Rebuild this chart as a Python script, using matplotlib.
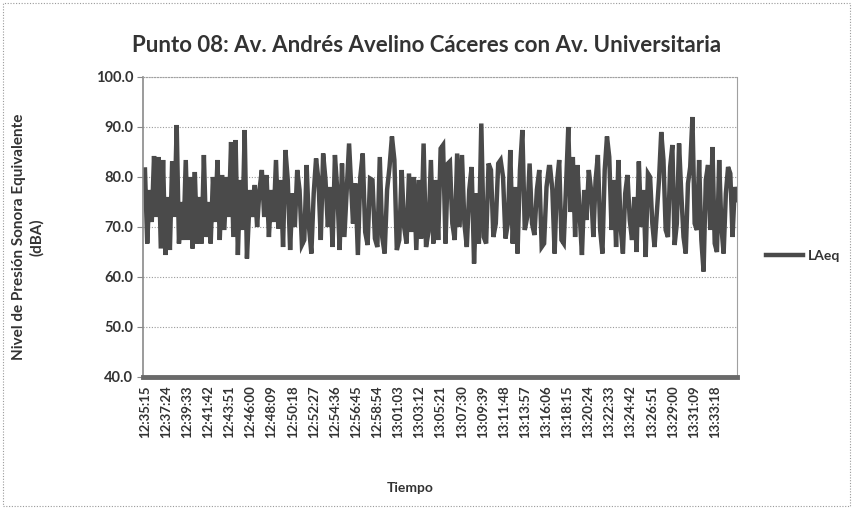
import numpy as np
import matplotlib
matplotlib.use("Agg")
import matplotlib.pyplot as plt
from matplotlib.patches import Rectangle

plt.rcParams['font.family'] = ['Lato', 'DejaVu Sans']

# Lecturas LAeq (dBA), por tramos de tiempo
tramo_1 = [81.5, 66.7, 77.4, 71.0, 84.2, 72.0, 84.0, 65.7, 83.4, 64.4, 76.0, 65.4,
           83.1, 72.0, 90.4, 66.7, 75.0, 67.4, 83.4, 67.4, 80.0, 65.7, 81.0, 66.7,
           76.0, 66.7, 84.4, 68.0, 75.0, 66.7, 80.0, 71.0, 83.4, 67.4, 80.4, 69.4,
           80.0, 72.0, 87.0, 68.0, 87.4, 64.4, 79.4, 69.4, 89.4, 63.7]
tramo_2 = [77.4, 72.0, 78.4, 70.0, 77.4, 81.4, 72.0, 80.4, 68.0, 77.4, 71.0, 83.4,
           69.7, 79.4, 66.0, 85.4, 79.4, 65.4, 76.7, 70.0, 81.4, 77.4, 66.4, 67.4,
           82.4, 70.0, 64.7, 76.7, 83.7, 79.4, 67.4, 84.7, 79.4, 70.0, 78.0, 66.0,
           84.4, 77.4, 65.4, 82.7, 68.0, 77.4, 86.7]
tramo_3 = [70.7, 78.7, 64.4, 80.0, 84.7, 69.0, 66.4, 79.7, 79.4, 67.7, 66.0, 84.0,
           68.0, 64.7, 77.4, 82.0, 88.1, 83.4, 65.4, 67.4, 81.4, 70.0, 66.7, 80.7,
           69.0, 80.0, 65.4, 79.4, 67.7, 86.7, 66.0, 69.0, 83.4, 66.7, 79.4, 67.4,
           85.7, 86.4, 66.7, 82.7]
tramo_4 = [83.1, 70.7, 67.4, 84.7, 70.0, 84.4, 70.7, 66.0, 77.4, 82.0, 62.7, 76.7,
           66.7, 90.7, 68.0, 66.7, 82.7, 81.4, 68.0, 70.7, 82.7, 83.4, 80.0, 67.7,
           70.7, 85.4, 66.7, 78.0, 64.7, 81.4, 89.4, 69.4, 72.0, 82.7, 70.7, 68.4,
           77.4, 81.4, 66.0, 66.7, 78.0, 82.0]
tramo_5 = [82.0, 77.4, 64.7, 78.7, 83.4, 67.4, 66.7, 78.0, 90.0, 73.0, 84.0, 68.0,
           82.4, 72.4, 64.4, 77.4, 71.4, 81.4, 77.4, 68.0, 79.4, 84.4, 69.4, 64.7,
           81.4, 88.1, 84.0, 69.4, 79.4, 66.0, 83.4, 70.0, 64.7, 76.7, 80.4, 71.4,
           67.4, 76.0, 65.0, 83.1, 70.0, 77.4, 64.0, 80.7]
tramo_6 = [80.0, 70.7, 66.0, 72.7, 79.4, 89.0, 83.4, 69.4, 68.0, 82.0, 86.4, 66.4,
           70.7, 86.7, 76.7, 68.0, 64.7, 78.7, 82.0, 92.0, 70.7, 69.4, 83.4, 67.4,
           61.1, 79.4, 82.4, 69.4, 86.0, 66.7, 65.0, 83.4, 70.0, 64.7, 76.7, 82.0,
           80.7, 68.0, 78.0, 75.4]

# inicio y fin de cada tramo, en segundos desde 12:35:15
limites_tramos = [(0, 623), (642, 1247), (1271, 1851), (1863, 2468), (2475, 3073), (3086, 3617)]

etiquetas_tiempo = ["12:35:15", "12:37:24", "12:39:33", "12:41:42", "12:43:51", "12:46:00",
                    "12:48:09", "12:50:18", "12:52:27", "12:54:36", "12:56:45", "12:58:54",
                    "13:01:03", "13:03:12", "13:05:21", "13:07:30", "13:09:39", "13:11:48",
                    "13:13:57", "13:16:06", "13:18:15", "13:20:24", "13:22:33", "13:24:42",
                    "13:26:51", "13:29:00", "13:31:09", "13:33:18"]
paso_etiquetas = 129  # segundos entre etiquetas

tramos = [tramo_1, tramo_2, tramo_3, tramo_4, tramo_5, tramo_6]
t = np.concatenate([np.linspace(a, b, len(v)) for (a, b), v in zip(limites_tramos, tramos)])
laeq = np.concatenate(tramos)

fig = plt.figure(figsize=(8.54, 5.12), dpi=100)
ax = fig.add_axes([143 / 854, 1 - 377 / 512, 594 / 854, 300 / 512])

ax.plot(t, laeq, color='#4a4a4a', lw=3.2, label='LAeq', solid_joinstyle='miter')

ax.set_xlim(-12, 3617)
ax.set_ylim(40, 100)
ax.set_yticks(np.arange(40, 101, 10))
ax.set_yticklabels([f"{v:.1f}" for v in np.arange(40, 101, 10)])
ax.set_xticks(np.arange(len(etiquetas_tiempo)) * paso_etiquetas)
ax.set_xticklabels(etiquetas_tiempo, rotation=90)

ax.yaxis.grid(True, linestyle=(0, (1, 1.5)), color='#9a9a9a', lw=0.8)
ax.set_axisbelow(True)

for s in ['top', 'right']:
    ax.spines[s].set_color('#a0a0a0')
    ax.spines[s].set_linewidth(0.8)
ax.spines['top'].set_linestyle((0, (1, 1.5)))
ax.spines['left'].set_color('#8a8a8a')
ax.spines['left'].set_linewidth(1.2)
ax.spines['bottom'].set_color('#6a6a6a')
ax.spines['bottom'].set_linewidth(3.5)

ax.tick_params(axis='x', length=0, pad=6, labelsize=9.5, labelcolor='#333333')
ax.tick_params(axis='y', length=4, color='#8a8a8a', pad=3, labelsize=10.5, labelcolor='#333333')
for lbl in ax.get_xticklabels() + ax.get_yticklabels():
    lbl.set_fontweight('bold')

fig.text(427 / 854, 1 - 46 / 512, "Punto 08: Av. Andrés Avelino Cáceres con Av. Universitaria",
         ha='center', va='center', fontsize=16, fontweight='bold', color='#333333')

fig.text(28 / 854, 1 - 237 / 512, "Nivel de Presión Sonora Equivalente\n(dBA)",
         ha='center', va='center', rotation=90, fontsize=11, fontweight='bold',
         color='#333333', linespacing=1.25)

fig.text(410 / 854, 1 - 488 / 512, "Tiempo", ha='center', va='center',
         fontsize=10, fontweight='bold', color='#333333')

fig.legend(loc='center left', bbox_to_anchor=(754 / 854, 1 - 256 / 512), frameon=False,
           handlelength=2.6, handletextpad=0.4,
           prop={'weight': 'bold', 'size': 10}, labelcolor='#333333')

fig.patches.append(Rectangle((3 / 854, 6 / 512), 847 / 854, 503 / 512, transform=fig.transFigure,
                             fill=False, edgecolor='#9a9a9a', lw=0.8, linestyle=(0, (1, 1.5))))

fig.savefig("out.png", dpi=100)
